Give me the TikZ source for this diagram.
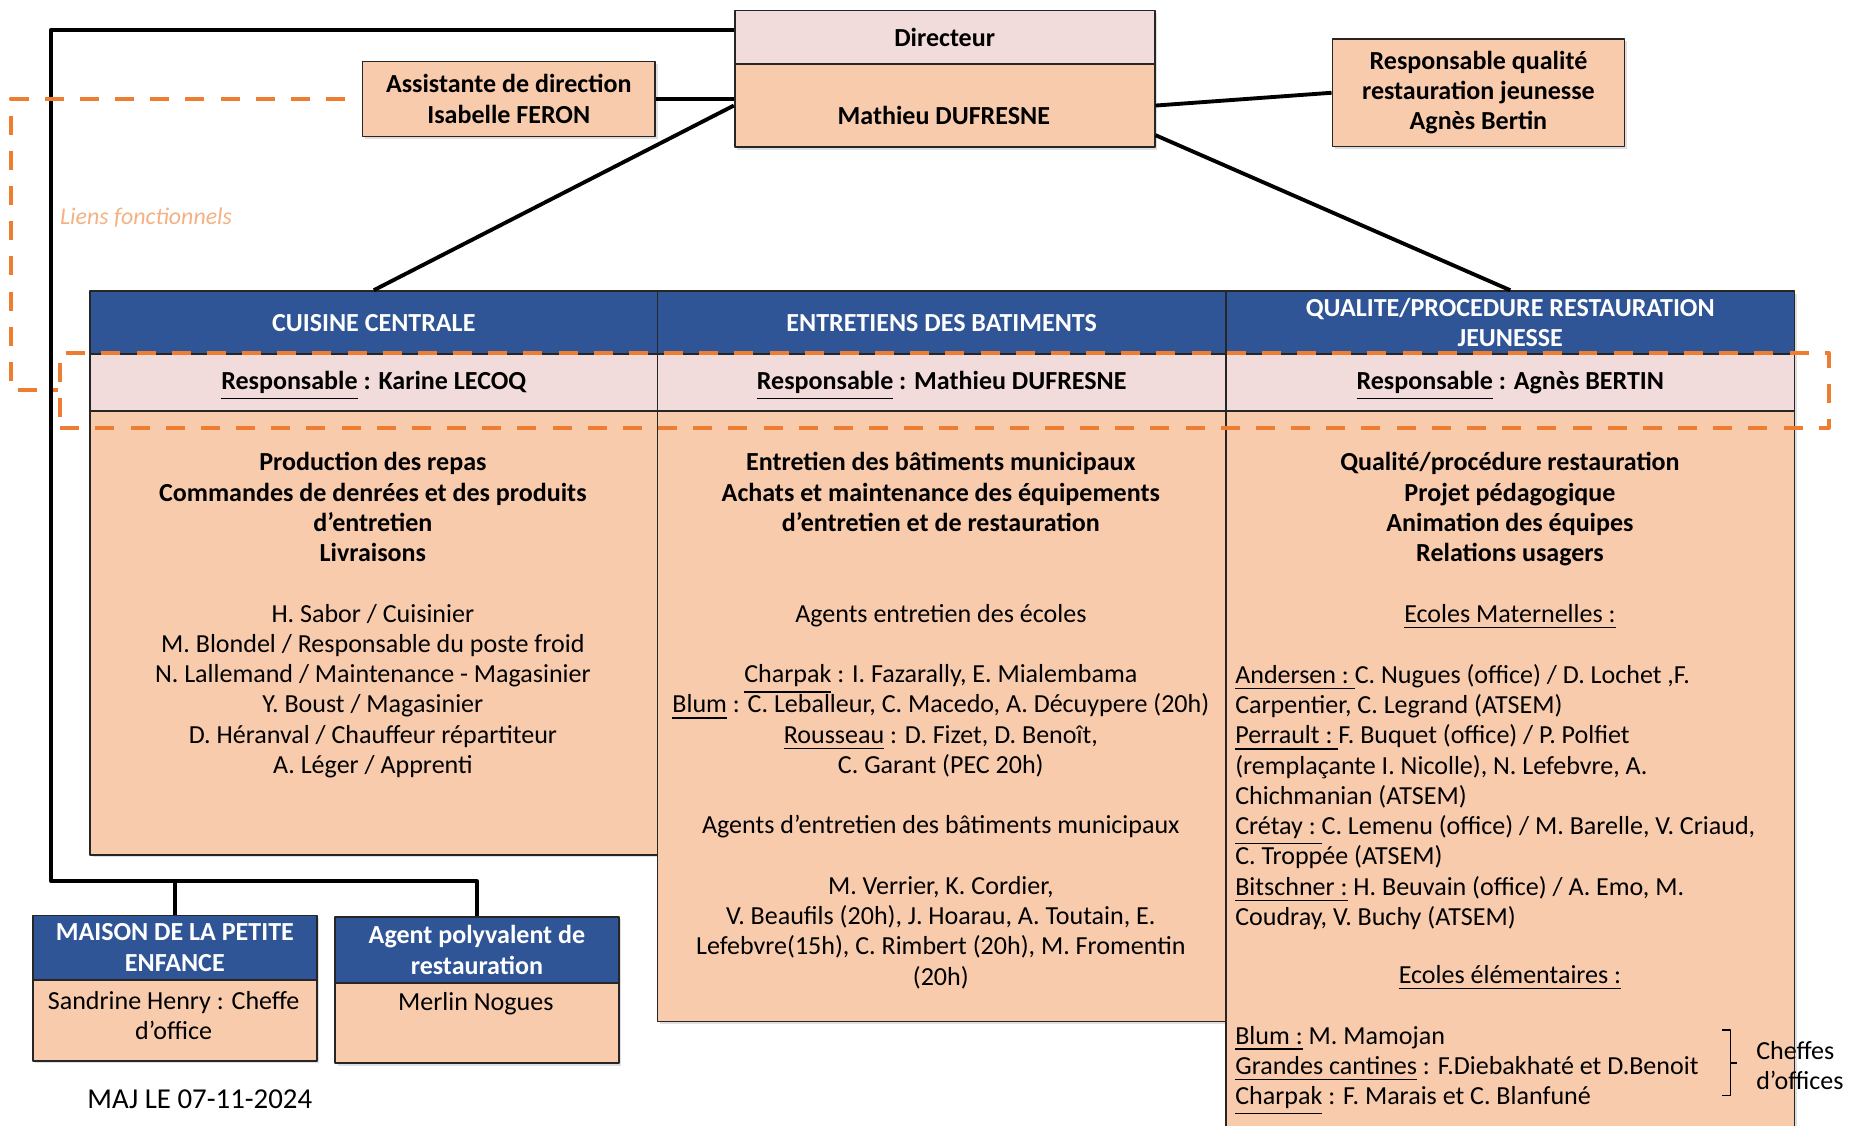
\documentclass[tikz,border=0pt]{standalone}
\usepackage{fontspec}
\setmainfont{Carlito}
\usetikzlibrary{positioning,shadows}
\definecolor{headblue}{HTML}{2F5597}
\definecolor{peach}{HTML}{F8CBAD}
\definecolor{rowpink}{HTML}{F2DCDB}
\definecolor{funcorange}{HTML}{ED7D31}
\definecolor{lienorange}{HTML}{F4B183}
\newlength{\rowgap}
\setlength{\rowgap}{8.6pt}
\newcommand{\txt}{\fontsize{7.4pt}{8.6pt}\selectfont}
\newcommand{\ulin}[1]{\smash{\underline{#1}}\vphantom{#1}}
\begin{document}
\begin{tikzpicture}[x=0.011894cm, y=-0.011894cm, font=\txt, line join=round,
  dims/.style 2 args={minimum width=#1*\px, minimum height=#2*\px},
  cell/.style={anchor=north west, inner sep=0pt, draw=black!85, line width=0.5pt,
    drop shadow={shadow xshift=0.7pt, shadow yshift=-0.7pt, opacity=0.25}},
  headcell/.style={cell, fill=headblue, text=white, font=\txt\bfseries, align=center},
  respcell/.style={cell, fill=rowpink, font=\txt\bfseries, align=center},
  bodycell/.style={cell, fill=peach, font=\txt\bfseries, align=center},
  textblock/.style={anchor=north, inner sep=0pt, align=center},
  leftblock/.style={anchor=north west, inner sep=0pt, align=left},
  linkline/.style={line width=1.1pt, black},
  funcline/.style={draw=funcorange, line width=1.1pt, dash pattern=on 5.4pt off 4.6pt}]
\def\px{0.011894cm}
\useasboundingbox (0,0) rectangle (1568,946);

% direction
\node[respcell, dims={353}{45}] (dirhead) at (617,8) {Directeur};
\node[bodycell, dims={353}{70}] (dirbody) at (617,53) {};
\node[font=\txt\bfseries, inner sep=0pt] (dirname) at (793.5,97) {Mathieu DUFRESNE};
\node[bodycell, dims={246}{63}] (assist) at (304,51) {Assistante de direction\\Isabelle FERON};
\node[bodycell, dims={245.5}{90.5}] (qualres) at (1119.5,32) {Responsable qualité\\restauration jeunesse\\Agnès Bertin};

% services
\node[headcell, dims={477}{53}] (cuisine) at (75,244) {CUISINE CENTRALE};
\node[headcell, dims={478}{53}] (entretien) at (552,244) {ENTRETIENS DES BATIMENTS};
\node[headcell, dims={478}{53}] (qualite) at (1030,244) {QUALITE/PROCEDURE RESTAURATION\\JEUNESSE};
\node[respcell, dims={477}{48}] (respA) at (75,297) {\ulin{Responsable} : Karine LECOQ};
\node[respcell, dims={478}{48}] (respB) at (552,297) {\ulin{Responsable} : Mathieu DUFRESNE};
\node[respcell, dims={478}{48}] (respC) at (1030,297) {\ulin{Responsable} : Agnès BERTIN};
\node[bodycell, dims={477}{373}] (bodyA) at (75,345) {};
\node[bodycell, dims={478}{513}] (bodyB) at (552,345) {};
\node[bodycell, dims={478}{630}] (bodyC) at (1030,345) {};

\node[textblock] (tasksA) at (313.5,380) {\textbf{Production des repas}\\
  \textbf{Commandes de denrées et des produits}\\ \textbf{d’entretien}\\ \textbf{Livraisons}\\[\rowgap]
  H. Sabor / Cuisinier\\ M. Blondel / Responsable du poste froid\\
  N. Lallemand / Maintenance - Magasinier\\ Y. Boust / Magasinier\\
  D. Héranval / Chauffeur répartiteur\\ A. Léger / Apprenti};
\node[textblock] (tasksB) at (791,380) {\textbf{Entretien des bâtiments municipaux}\\
  \textbf{Achats et maintenance des équipements}\\ \textbf{d’entretien et de restauration}\\[2\rowgap]
  Agents entretien des écoles\\[\rowgap]
  \ulin{Charpak} : I. Fazarally, E. Mialembama\\
  \ulin{Blum} : C. Leballeur, C. Macedo, A. Décuypere (20h)\\
  \ulin{Rousseau} : D. Fizet, D. Benoît,\\ C. Garant (PEC 20h)\\[\rowgap]
  Agents d’entretien des bâtiments municipaux\\[\rowgap]
  M. Verrier, K. Cordier,\\ V. Beaufils (20h), J. Hoarau, A. Toutain, E.\\
  Lefebvre(15h), C. Rimbert (20h), M. Fromentin\\ (20h)};
\node[textblock] (tasksC) at (1269.5,380) {\textbf{Qualité/procédure restauration}\\
  \textbf{Projet pédagogique}\\ \textbf{Animation des équipes}\\ \textbf{Relations usagers}\\[\rowgap]
  \ulin{Ecoles Maternelles :}};
\node[leftblock] (matern) at (1038,558) {\ulin{Andersen :~}C. Nugues (office) / D. Lochet ,F.\\
  Carpentier, C. Legrand (ATSEM)\\
  \ulin{Perrault :~}F. Buquet (office) / P. Polfiet\\
  (remplaçante I. Nicolle), N. Lefebvre, A.\\
  Chichmanian (ATSEM)\\
  \ulin{Crétay :~}C. Lemenu (office) / M. Barelle, V. Criaud,\\
  C. Troppée (ATSEM)\\
  \ulin{Bitschner :}~H. Beuvain (office) / A. Emo, M.\\
  Coudray, V. Buchy (ATSEM)};
\node[textblock] (elemtitle) at (1269.5,811) {\ulin{Ecoles élémentaires :}};
\node[leftblock] (elem) at (1038,862) {\ulin{Blum :}~M. Mamojan\\
  \ulin{Grandes cantines} : F.Diebakhaté et D.Benoit\\
  \ulin{Charpak} : F. Marais et C. Blanfuné};
\draw[line width=0.5pt] (1448,866) -- (1455,866) -- (1455,921) -- (1448,921);
\draw[line width=0.5pt] (1455,893.5) -- (1460,893.5);
\node[leftblock, anchor=west] (cheffes) at (1476,896) {Cheffes\\d’offices};

% petite enfance
\node[headcell, dims={238.5}{54}] (maison) at (27,769) {MAISON DE LA PETITE\\ENFANCE};
\node[bodycell, dims={238.5}{68}] (maisonbody) at (27,823) {};
\node[textblock] (henry) at (146,833) {Sandrine Henry : Cheffe\\d’office};
\node[headcell, dims={238.5}{56}] (agent) at (281,770) {Agent polyvalent de\\restauration};
\node[bodycell, dims={238.5}{67}] (agentbody) at (281,826) {};
\node[inner sep=0pt] (nogues) at (400,844) {Merlin Nogues};
\node[font=\fontsize{8.2pt}{10pt}\selectfont, inner sep=0pt] (maj) at (168,924) {MAJ LE 07-11-2024};

% liens hierarchiques
\draw[linkline] (assist.east) -- (assist.east -| dirbody.west);
\draw[linkline] (dirbody.west) -- (cuisine.north);
\draw[linkline] (dirbody.east) -- (qualres.west);
\draw[linkline] (dirbody.-8) -- (qualite.north);
\coordinate (busL) at (43,741);
\draw[linkline] (dirhead.178) -| (busL) -| (agent.north);
\draw[linkline] (maison.north) -- (maison.north |- busL);

% liens fonctionnels
\node[funcline, anchor=north west, inner sep=0pt, dims={1487}{63}] (func) at (49,295) {};
\coordinate (fcorner) at (9,83);
\draw[funcline, shorten <=4.7pt] (assist.west) -| (fcorner) |- (func.west);
\node[anchor=west, inner sep=0pt, text=lienorange, font=\fontsize{6.8pt}{8pt}\selectfont\itshape] (liens) at (50,183) {Liens fonctionnels};
\end{tikzpicture}
\end{document}
